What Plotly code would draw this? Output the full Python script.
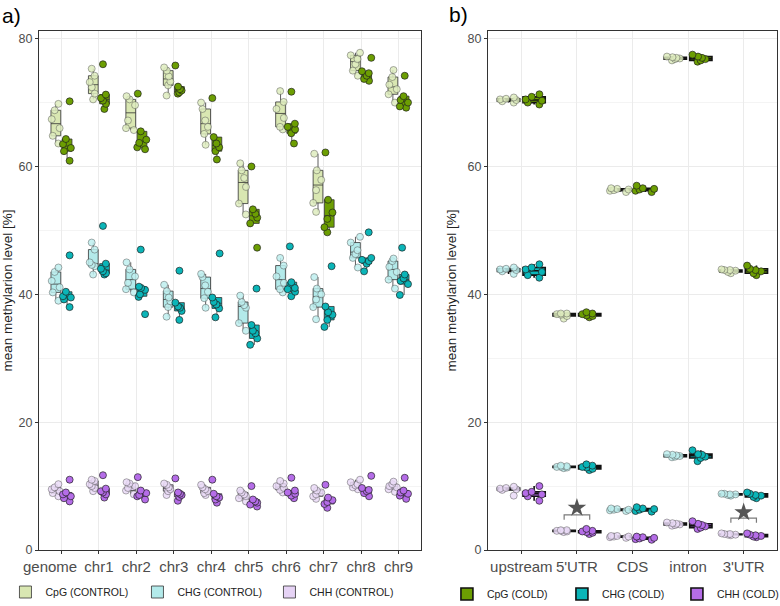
import plotly.graph_objects as go

# ---------------- data ----------------
chromosomes = ["genome", "chr1", "chr2", "chr3", "chr4", "chr5", "chr6", "chr7", "chr8", "chr9"]
features = ["upstream", "5'UTR", "CDS", "intron", "3'UTR"]

# panel a) per chromosome, replicates
cpg_control_chr = [
    [63.6, 64.8, 66.0, 67.4, 68.8, 69.8],
    [70.5, 71.4, 72.4, 73.2, 74.2, 75.3],
    [65.7, 66.0, 67.2, 69.6, 70.5, 71.0],
    [71.1, 72.7, 73.3, 74.1, 75.0, 75.5],
    [63.4, 65.1, 66.2, 67.2, 69.0, 70.0],
    [52.5, 54.2, 56.8, 58.2, 59.4, 60.5],
    [65.8, 66.2, 67.6, 69.0, 70.1, 71.8],
    [52.9, 54.3, 56.3, 57.9, 59.4, 62.0],
    [74.2, 75.0, 76.0, 76.8, 77.4, 77.8],
    [70.0, 71.3, 72.1, 72.8, 74.0, 75.1],
]
cpg_cold_chr = [
    [60.9, 62.4, 62.9, 63.5, 64.3, 70.2],
    [69.0, 69.8, 70.3, 70.7, 71.25, 76.0],
    [62.7, 63.0, 63.7, 64.2, 65.5, 71.4],
    [71.4, 71.6, 71.9, 72.1, 72.5, 75.8],
    [61.1, 62.4, 63.0, 63.6, 64.6, 70.7],
    [47.3, 51.1, 52.0, 52.6, 53.3, 60.0],
    [63.6, 65.2, 65.8, 66.2, 66.7, 71.7],
    [49.7, 50.5, 51.8, 52.8, 54.8, 62.2],
    [73.4, 73.7, 74.2, 74.6, 74.9, 77.0],
    [69.2, 69.4, 70.0, 70.4, 71.0, 74.2],
]
chg_control_chr = [
    [39.0, 40.3, 41.1, 42.1, 43.5, 44.2],
    [43.1, 44.4, 44.6, 45.0, 47.0, 48.1],
    [40.3, 40.8, 41.8, 42.8, 43.9, 45.0],
    [36.5, 38.0, 38.9, 39.5, 40.5, 41.5],
    [37.9, 39.4, 40.4, 41.4, 42.7, 43.2],
    [34.3, 35.5, 37.9, 38.3, 38.8, 39.8],
    [40.3, 40.8, 41.8, 42.8, 44.5, 45.7],
    [36.1, 38.0, 39.2, 40.0, 40.9, 42.7],
    [44.2, 45.7, 46.3, 46.9, 48.1, 49.0],
    [40.9, 42.3, 43.5, 44.3, 45.2, 45.6],
]
chg_cold_chr = [
    [38.0, 39.2, 39.5, 39.7, 40.4, 46.1],
    [43.1, 43.3, 43.6, 44.0, 44.8, 50.7],
    [36.9, 39.6, 40.0, 40.7, 41.0, 41.2, 47.0],
    [36.0, 37.4, 37.9, 38.1, 38.7, 43.7],
    [36.4, 37.8, 38.4, 38.8, 39.5, 46.4],
    [32.1, 33.1, 33.9, 34.3, 35.2, 40.9],
    [39.7, 40.4, 40.8, 41.0, 41.9, 47.5],
    [34.9, 36.0, 36.8, 37.2, 38.1, 44.4],
    [43.6, 44.8, 45.2, 45.4, 45.7, 49.7],
    [39.9, 41.6, 42.1, 42.5, 43.1, 47.3],
]
chh_control_chr = [
    [8.4, 8.9, 9.2, 9.5, 9.8, 10.3],
    [9.2, 9.7, 10.0, 10.3, 10.8, 11.0],
    [8.7, 9.3, 9.7, 10.0, 10.4, 10.6],
    [8.6, 9.2, 9.5, 9.8, 10.2, 10.4],
    [8.6, 8.9, 9.2, 9.5, 9.8, 10.2],
    [7.6, 8.1, 8.4, 8.7, 9.0, 9.3],
    [9.0, 9.4, 9.7, 10.0, 10.4, 10.8],
    [8.0, 8.4, 8.7, 9.0, 9.3, 9.7],
    [9.5, 9.8, 10.1, 10.3, 10.6, 11.0],
    [9.1, 9.5, 9.8, 10.0, 10.3, 10.7],
]
chh_cold_chr = [
    [7.6, 8.1, 8.4, 8.7, 9.0, 11.0],
    [8.2, 8.7, 9.0, 9.2, 9.6, 11.7],
    [7.9, 8.4, 8.6, 8.9, 9.3, 11.4],
    [7.7, 8.3, 8.6, 8.8, 9.0, 11.2],
    [7.4, 7.9, 8.2, 8.4, 8.8, 11.0],
    [6.8, 7.1, 7.4, 7.6, 7.9, 10.0],
    [8.1, 8.5, 8.8, 9.0, 9.3, 11.3],
    [6.6, 7.2, 7.5, 7.8, 8.2, 10.2],
    [8.4, 8.9, 9.2, 9.4, 9.7, 11.6],
    [8.0, 8.5, 8.8, 9.0, 9.3, 11.3],
]

# panel b) per gene feature
cpg_control_feat = [
    [70.0, 70.2, 70.4, 70.5, 70.6, 70.8],
    [36.2, 36.6, 36.8, 36.9, 37.0, 37.0],
    [56.0, 56.2, 56.3, 56.4, 56.5, 56.6],
    [76.6, 76.8, 76.9, 77.0, 77.1, 77.2],
    [43.3, 43.5, 43.7, 43.8, 43.8, 43.9],
]
cpg_cold_feat = [
    [69.7, 70.0, 70.3, 70.5, 70.9, 71.3],
    [36.4, 36.6, 36.7, 36.9, 37.0, 37.2],
    [56.0, 56.2, 56.4, 56.5, 56.6, 57.0],
    [76.4, 76.6, 76.8, 77.0, 77.2, 77.5],
    [43.0, 43.3, 43.6, 43.8, 44.0, 44.5],
]
chg_control_feat = [
    [43.2, 43.6, 43.8, 43.9, 44.0, 44.2],
    [12.8, 12.9, 13.0, 13.0, 13.1, 13.2],
    [6.1, 6.2, 6.3, 6.3, 6.4, 6.5],
    [14.5, 14.6, 14.7, 14.8, 14.9, 15.0],
    [8.5, 8.6, 8.7, 8.7, 8.8, 8.8],
]
chg_cold_feat = [
    [42.6, 43.0, 43.5, 43.9, 44.2, 44.7],
    [12.5, 12.7, 12.9, 13.0, 13.2, 13.4],
    [6.0, 6.1, 6.3, 6.4, 6.5, 6.7],
    [13.9, 14.4, 14.6, 14.9, 15.0, 15.6],
    [8.1, 8.3, 8.5, 8.6, 8.8, 9.0],
]
chh_control_feat = [
    [8.5, 9.4, 9.5, 9.6, 9.7, 9.9],
    [2.8, 2.9, 3.0, 3.0, 3.1, 3.1],
    [1.9, 2.0, 2.1, 2.1, 2.2, 2.2],
    [3.8, 3.9, 4.0, 4.1, 4.2, 4.3],
    [2.3, 2.4, 2.4, 2.5, 2.5, 2.6],
]
chh_cold_feat = [
    [7.7, 8.4, 8.7, 8.9, 9.1, 10.0],
    [2.5, 2.7, 2.8, 2.9, 3.0, 3.3],
    [1.6, 1.7, 1.8, 1.9, 2.0, 2.1],
    [3.3, 3.5, 3.7, 3.9, 4.1, 4.5],
    [2.0, 2.1, 2.2, 2.3, 2.4, 2.6],
]

# significance marks (panel b)
sig_features = ["5'UTR", "3'UTR"]
sig_bracket_y = [5.5, 5.0]
sig_star_y = [6.6, 5.9]

y_ticks = [0, 20, 40, 60, 80]

# ---------------- style ----------------
FONT = "Liberation Sans, Arial, sans-serif"
colors = {
    "CpG": {"light": "#d9e7b2", "dark": "#6c9e02"},
    "CHG": {"light": "#b3eaea", "dark": "#0bb5b8"},
    "CHH": {"light": "#e6d3f5", "dark": "#b56de8"},
}
light_pt = {"CpG": "rgba(222,236,190,0.85)", "CHG": "rgba(190,238,238,0.85)", "CHH": "rgba(234,218,247,0.85)"}

fig = go.Figure()


def add_box(values, cats_n, offset, name, ctx, cond, xa, ya, width, jitter, lw, lcol,
            legend, showlegend):
    xs, ys = [], []
    for i in range(cats_n):
        xs += [i + offset] * len(values[i])
        ys += values[i]
    if cond == "CONTROL":
        fill = colors[ctx]["light"]
        mcol = light_pt[ctx]
        mline = "rgba(70,70,70,0.55)"
    else:
        fill = colors[ctx]["dark"]
        mcol = colors[ctx]["dark"]
        mline = "rgba(30,30,30,0.85)"
    fig.add_trace(go.Box(
        x=xs, y=ys, name=name, xaxis=xa, yaxis=ya,
        boxpoints="all", jitter=jitter, pointpos=0, width=width,
        fillcolor=fill, line=dict(color=lcol, width=lw), whiskerwidth=0,
        marker=dict(color=mcol, size=7, line=dict(color=mline, width=0.8)),
        legend=legend, showlegend=showlegend, hoverinfo="y",
    ))


left_sets = [
    ("CpG", "CONTROL", cpg_control_chr), ("CHG", "CONTROL", chg_control_chr), ("CHH", "CONTROL", chh_control_chr),
    ("CpG", "COLD", cpg_cold_chr), ("CHG", "COLD", chg_cold_chr), ("CHH", "COLD", chh_cold_chr),
]
right_sets = [
    ("CpG", "CONTROL", cpg_control_feat), ("CHG", "CONTROL", chg_control_feat), ("CHH", "CONTROL", chh_control_feat),
    ("CpG", "COLD", cpg_cold_feat), ("CHG", "COLD", chg_cold_feat), ("CHH", "COLD", chh_cold_feat),
]

for ctx, cond, vals in left_sets:
    off = -0.15 if cond == "CONTROL" else 0.15
    add_box(vals, len(chromosomes), off, f"{ctx} ({cond})", ctx, cond, "x", "y",
            0.26, 1.0, 0.8, "#333333", "legend", cond == "CONTROL")

for ctx, cond, vals in right_sets:
    off = -0.23 if cond == "CONTROL" else 0.23
    add_box(vals, len(features), off, f"{ctx} ({cond})", ctx, cond, "x2", "y2",
            0.4, 0.9, 1.6, "#111111", "legend2", cond == "COLD")

# significance brackets and stars
for feat, by, sy in zip(sig_features, sig_bracket_y, sig_star_y):
    c = features.index(feat)
    fig.add_trace(go.Scatter(
        x=[c - 0.23, c - 0.23, c + 0.23, c + 0.23], y=[by - 0.75, by, by, by - 0.75],
        mode="lines", line=dict(color="#7a7a7a", width=1.2), xaxis="x2", yaxis="y2",
        showlegend=False, hoverinfo="skip"))
    fig.add_trace(go.Scatter(
        x=[c], y=[sy], mode="markers", marker=dict(symbol="star", size=14, color="#555555"),
        xaxis="x2", yaxis="y2", showlegend=False, hoverinfo="skip"))

axis_common = dict(
    showline=True, mirror=True, linecolor="#333333", linewidth=1,
    showgrid=True, gridcolor="#ebebeb", gridwidth=1.1, zeroline=False,
    ticks="outside", ticklen=3, tickcolor="#333333", automargin=False,
)
yaxis_common = dict(axis_common, range=[0, 81.2], tickvals=y_ticks,
                    tickfont=dict(size=12.5, color="#4d4d4d"),
                    minor=dict(tickvals=[10, 30, 50, 70], showgrid=True, gridcolor="#f4f4f4", gridwidth=0.6, ticks=""))
ytitle = "mean methylarion level [%]"
# first label ("genome") is drawn as an annotation, nudged left of its tick as in the original
chrom_ticktext = ["" if i == 0 else c for i, c in enumerate(chromosomes)]
tickfont_x = dict(size=15, color="#4d4d4d", family=FONT)

fig.update_layout(
    width=780, height=606,
    margin=dict(l=39, r=3, t=31, b=56, autoexpand=False),
    paper_bgcolor="white", plot_bgcolor="white",
    font=dict(family=FONT, color="#222222"),
    boxmode="overlay",
    xaxis=dict(axis_common, domain=[0, 0.5176], range=[-0.6, 9.6], tickangle=0,
               tickvals=list(range(len(chromosomes))), ticktext=chrom_ticktext,
               tickfont=tickfont_x),
    xaxis2=dict(axis_common, domain=[0.6084, 1.0], range=[-0.6, 4.6], tickangle=0,
                tickvals=list(range(len(features))), ticktext=features,
                tickfont=tickfont_x),
    yaxis=dict(yaxis_common, domain=[0, 1], anchor="x",
               title=dict(text=ytitle, font=dict(size=13.5, color="#222222"), standoff=4)),
    yaxis2=dict(yaxis_common, domain=[0, 1], anchor="x2",
                title=dict(text=ytitle, font=dict(size=13.5, color="#222222"), standoff=7)),
    legend=dict(orientation="h", xref="container", yref="container", x=0.007, y=0.0231,
                xanchor="left", yanchor="middle", entrywidth=87, font=dict(size=10.5, color="#222222"),
                bgcolor="rgba(0,0,0,0)"),
    legend2=dict(orientation="h", xref="container", yref="container", x=0.573, y=0.0198,
                 xanchor="left", yanchor="middle", entrywidth=70, font=dict(size=10.5, color="#222222"),
                 bgcolor="rgba(0,0,0,0)"),
    annotations=[
        dict(text="a)", x=-0.0366, y=1.029, xref="paper", yref="paper", showarrow=False,
             font=dict(size=21, color="black"), xanchor="center", yanchor="middle"),
        dict(text="b)", x=0.5678, y=1.031, xref="paper", yref="paper", showarrow=False,
             font=dict(size=21, color="black"), xanchor="center", yanchor="middle"),
        dict(text=chromosomes[0], x=0, y=0, xref="x", yref="paper", xshift=-11, yshift=-16,
             showarrow=False, xanchor="center", yanchor="middle", font=tickfont_x),
    ],
)

fig.write_html("out.html", config={"displayModeBar": False},
               post_script="document.body.style.margin='0';document.body.style.overflow='hidden';")
